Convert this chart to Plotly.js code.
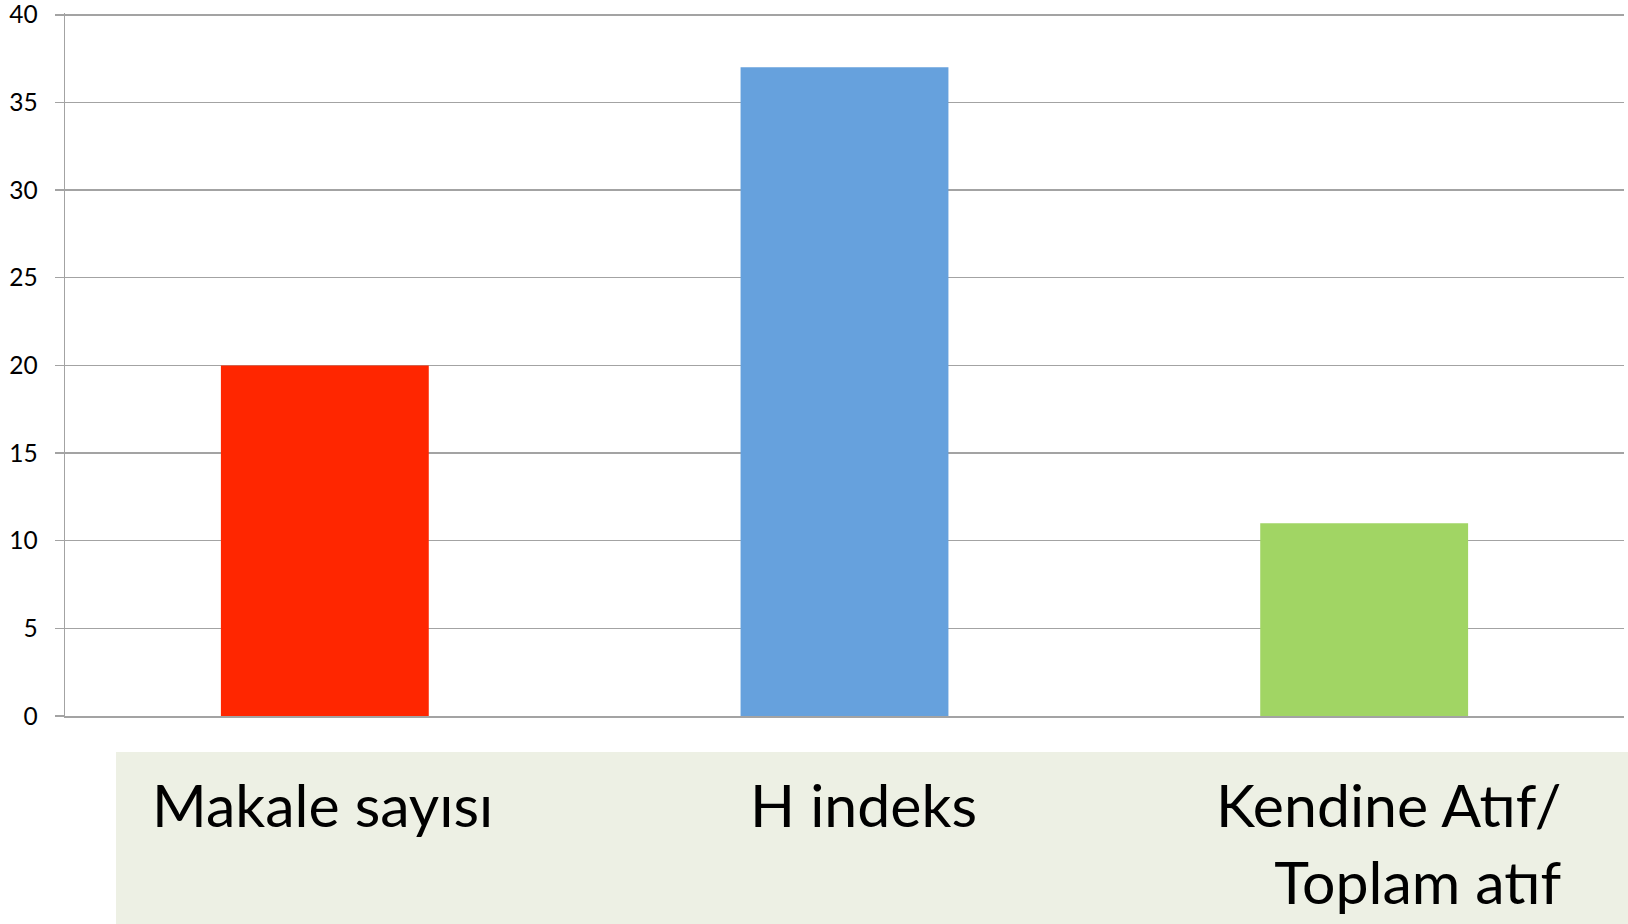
<!DOCTYPE html>
<html>
<head>
<meta charset="utf-8">
<script src="https://cdn.plot.ly/plotly-3.0.1.min.js"></script>
<style>html,body{margin:0;padding:0;background:#fff;}#chart{width:1628px;height:924px;}</style>
</head>
<body>
<div id="chart"></div>
<script>
const categories = ["Makale sayısı", "H indeks", "Kendine Atıf/<br>Toplam atıf"];
const values = [20, 37, 11];
const barColors = ["#FF2600", "#66A1DD", "#A1D564"];
const yTicks = [0, 5, 10, 15, 20, 25, 30, 35, 40];
const labelShift = [-2, 19, 25];
const labelAlign = ["center", "center", "right"];

const grid = "#A3A3A3";

const trace = {
  type: "bar",
  x: categories,
  y: values,
  marker: {color: barColors, line: {width: 0}},
  hoverinfo: "skip"
};

const annotations = categories.map((c, i) => ({
  x: c, xref: "x",
  y: -0.073, yref: "paper",
  yanchor: "top", xanchor: "center",
  xshift: labelShift[i],
  text: c,
  align: labelAlign[i],
  showarrow: false,
  font: {family: "Lato, 'Open Sans', sans-serif", size: 59, color: "#000"}
}));

const layout = {
  width: 1628, height: 924,
  margin: {l: 65, r: 4, t: 13, b: 208},
  paper_bgcolor: "#fff", plot_bgcolor: "#fff",
  showlegend: false,
  bargap: 0.6,
  font: {family: "Lato, 'Open Sans', sans-serif", color: "#000"},
  xaxis: {
    type: "category",
    range: [-0.5, 2.5],
    showticklabels: false,
    ticks: "",
    showgrid: false,
    showline: true, linecolor: grid, linewidth: 1.5,
    zeroline: false, fixedrange: true
  },
  yaxis: {
    range: [0, 40.1],
    tickvals: yTicks,
    ticktext: yTicks.map(String),
    showgrid: true, gridcolor: grid, gridwidth: 1.5,
    showline: true, linecolor: grid, linewidth: 1.5,
    ticks: "outside", ticklen: 9, tickcolor: grid, tickwidth: 1.5,
    ticklabelstandoff: 12,
    ticklabeloverflow: "allow",
    tickfont: {family: "Lato, 'Open Sans', sans-serif", size: 24.5, color: "#000"},
    zeroline: false, fixedrange: true
  },
  shapes: [{
    type: "rect", xref: "paper", yref: "paper",
    x0: 0.0327, x1: 1.02, y0: -0.32, y1: -0.0513,
    fillcolor: "#EDF0E4", line: {width: 0}, layer: "below"
  }],
  annotations: annotations
};

Plotly.newPlot("chart", [trace], layout, {staticPlot: true, displayModeBar: false});
</script>
</body>
</html>
